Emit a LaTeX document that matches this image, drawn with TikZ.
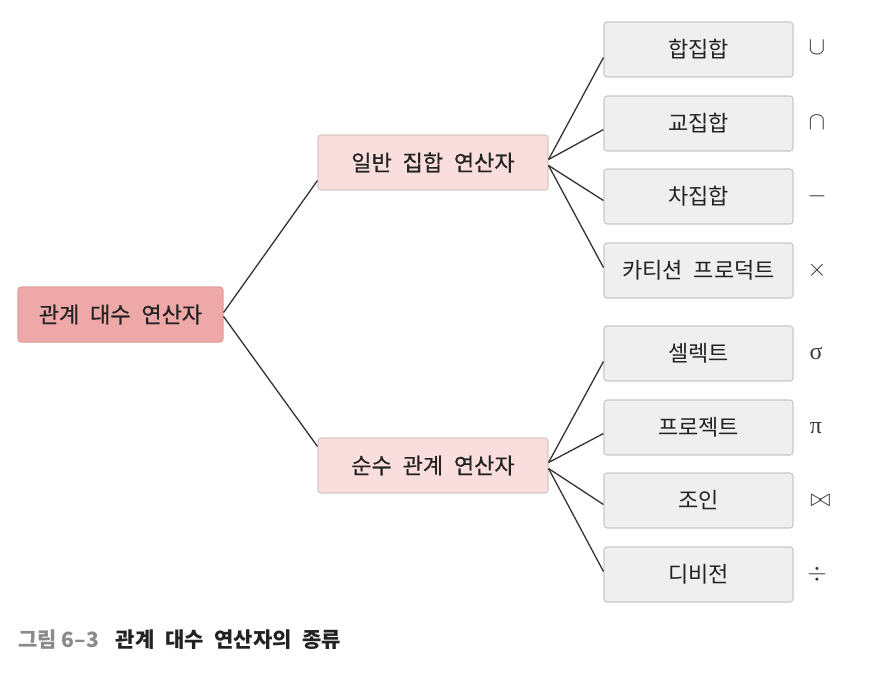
\documentclass[tikz,border=0pt]{standalone}
\usepackage{fontspec}
\setmainfont[WordSpace=2.2]{Noto Sans CJK KR}
\newfontfamily\medfont[WordSpace=2.2,FakeBold=0.6]{Noto Sans CJK KR}
\newfontfamily\serifsym{Liberation Serif}
\usetikzlibrary{calc}
\definecolor{rootfill}{HTML}{EDA8A7}
\definecolor{rootdraw}{HTML}{E39E9D}
\definecolor{midfill}{HTML}{FADEDE}
\definecolor{middraw}{HTML}{D9C6C6}
\definecolor{leaffill}{HTML}{EFEFEF}
\definecolor{leafdraw}{HTML}{C9C9C9}
\definecolor{txt}{HTML}{222222}
\definecolor{symc}{HTML}{3A3A3A}
\definecolor{capgray}{HTML}{8A8A8A}
\definecolor{linec}{HTML}{333333}
\tikzset{
  box/.style={rounded corners=3pt, line width=1.1pt, text=txt, inner sep=0pt, minimum height=55pt},
  rootbox/.style={box, fill=rootfill, draw=rootdraw, minimum width=205pt, font=\medfont\fontsize{22}{26}\selectfont},
  midbox/.style={box, fill=midfill, draw=middraw, minimum width=230pt, font=\medfont\fontsize{22}{26}\selectfont},
  leafbox/.style={box, fill=leaffill, draw=leafdraw, minimum width=189pt, font=\fontsize{22}{26}\selectfont},
  sym/.style={text=symc, font=\fontsize{26}{28}\selectfont, inner sep=0pt},
  conn/.style={draw=linec, line width=1.3pt},
}
\begin{document}
\begin{tikzpicture}[x=1pt,y=-1pt]
\useasboundingbox (0,0) rectangle (870,673);
\node[rootbox] (root) at (120.5,314.5) {관계 대수 연산자};
\node[midbox] (gen) at (433,162.5) {일반 집합 연산자};
\node[midbox] (pure) at (433,465.5) {순수 관계 연산자};
\node[leafbox] (l1) at (698.5,49.5) {합집합};
\node[leafbox] (l2) at (698.5,123.5) {교집합};
\node[leafbox] (l3) at (698.5,196.5) {차집합};
\node[leafbox] (l4) at (698.5,270.5) {카티션 프로덕트};
\node[leafbox] (l5) at (698.5,353.5) {셀렉트};
\node[leafbox] (l6) at (698.5,427.5) {프로젝트};
\node[leafbox] (l7) at (698.5,500.5) {조인};
\node[leafbox] (l8) at (698.5,574.5) {디비전};
\node[sym] (s1) at (817,48) {$\cup$};
\node[sym] (s2) at (817,123) {$\cap$};
\node[sym] (s3) at (817,196.5) {$-$};
\node[sym] (s4) at (817,270.5) {$\times$};
\node[sym, font=\serifsym\fontsize{24}{26}\selectfont] (s5) at (816,353) {σ};
\node[sym, font=\serifsym\fontsize{24}{26}\selectfont] (s6) at (816,428) {π};
\node[sym, font=\fontsize{31}{32}\selectfont] (s7) at (820.5,500.5) {$\bowtie$};
\node[sym] (s8) at (817,574.5) {$\div$};
\draw[conn] ($(root.east)+(0,-2)$) -- ($(gen.south west)+(0,-10)$);
\draw[conn] ($(root.east)+(0,2)$) -- ($(pure.north west)+(0,9)$);
\foreach \m/\a/\b/\c/\d in {gen/l1/l2/l3/l4, pure/l5/l6/l7/l8}{
  \draw[conn] ($(\m.east)+(0,-3)$) -- ($(\a.west)+(0,8)$);
  \draw[conn] ($(\m.east)+(0,-3)$) -- ($(\b.west)+(0,6)$);
  \draw[conn] ($(\m.east)+(0,3)$) -- ($(\c.west)+(0,4)$);
  \draw[conn] ($(\m.east)+(0,3)$) -- ($(\d.west)+(0,-3)$);
}
\node[anchor=west, inner sep=0pt, font=\fontsize{21}{24}\selectfont\bfseries] (cap) at (18,640) {\textcolor{capgray}{그림\hspace{5pt}6–3}\hspace{17pt}\textcolor{txt}{관계 대수 연산자의 종류}};
\end{tikzpicture}
\end{document}
